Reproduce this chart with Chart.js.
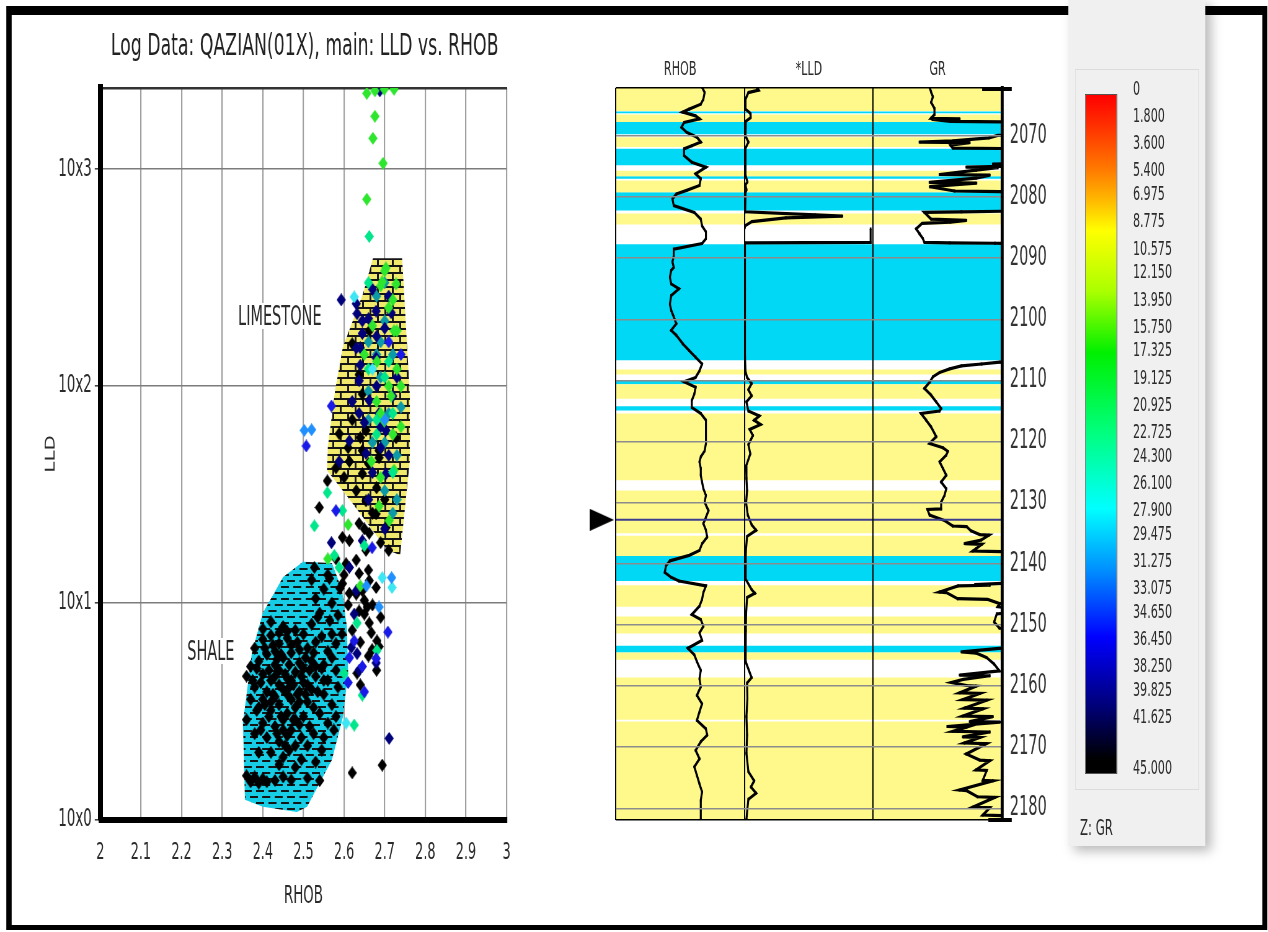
<!DOCTYPE html>
<html>
<head>
<meta charset="utf-8">
<script src="https://cdn.jsdelivr.net/npm/chart.js@4.4.1/dist/chart.umd.min.js"></script>
<style>
  html, body { margin: 0; padding: 0; background: #fff; overflow: hidden; }
  body { width: 1268px; height: 932px; position: relative;
         font-family: "Liberation Sans Narrow", "DejaVu Sans Condensed", "Arial Narrow", sans-serif; color: #2b2b2b; }
  /* the whole figure is drawn wide and squeezed horizontally, like the original screenshot */
  #stage { position: absolute; left: 0; top: 0; width: 2045px; height: 932px; transform: scaleX(0.62); transform-origin: 0 0; }
  #frame { position: absolute; left: 9.7px; top: 6px; width: 2034px; height: 924px; box-sizing: border-box;
           border-style: solid; border-color: #000; border-width: 9px 8px 5px 9.7px; }
  #cvLeft { position: absolute; left: 32.3px; top: 20px; }
  #cvLog { position: absolute; left: 903.2px; top: 40px; }
  .lbl { position: absolute; background: #fff; font-size: 26px; line-height: 26px; padding: 0 4px; white-space: nowrap; }
  .cap { position: absolute; background: #000; }
  #panel { position: absolute; left: 1722.6px; top: 0; width: 221px; height: 846px; background: #f0f0f0;
           box-shadow: 10px 5px 14px rgba(0,0,0,0.28); }
  #cbBox { position: absolute; left: 11.3px; top: 69px; width: 198px; height: 719px; border: 1px solid #dcdcdc; }
  #cbBar { position: absolute; left: 27.4px; top: 94px; width: 50px; height: 678px; border: 1px solid #555;
           border-left-width: 1.6px; border-right-width: 1.6px;
           background: linear-gradient(to bottom, #ff0000 0%, #ff2a00 4%, #ff7a00 11%, #ffc000 16%, #ffff00 20%,
             #aaff00 29%, #00f000 38%, #00ff80 50%, #00ffff 61%, #0090ff 70%, #0000ff 80%, #00007a 90%, #000000 98%); }
  .cbl { position: absolute; left: 104.8px; font-size: 20px; line-height: 16px; white-space: nowrap; }
  #zlab { position: absolute; left: 19.4px; top: 816px; font-size: 21px; }
</style>
</head>
<body>
<div id="stage">
  <div id="frame"></div>
  <canvas id="cvLeft" width="904" height="900"></canvas>
  <canvas id="cvLog" width="833" height="810"></canvas>
  <div class="lbl" style="left:380px; top:303px;">LIMESTONE</div>
  <div class="lbl" style="left:298px; top:638px;">SHALE</div>
  <div class="cap" style="left:1583.9px; top:87px; width:48.4px; height:4px;"></div>
  <div class="cap" style="left:1593.5px; top:818px; width:38.8px; height:4px;"></div>
  <div id="panel">
    <div id="cbBox"></div>
    <div id="cbBar"></div>
    <div id="zlab">Z: GR</div>
  </div>
</div>
<script>
const F = '"Liberation Sans Narrow", "DejaVu Sans Condensed", "Arial Narrow", sans-serif';
const TXT = '#2b2b2b';

// ---------- crossplot (LLD vs RHOB) ----------
const rhobTicks = [2, 2.1, 2.2, 2.3, 2.4, 2.5, 2.6, 2.7, 2.8, 2.9, 3];
const rhobTickLabels = ['2', '2.1', '2.2', '2.3', '2.4', '2.5', '2.6', '2.7', '2.8', '2.9', '3'];
const lldTicks = [1, 10, 100, 1000];
const lldTickLabels = ['10x0', '10x1', '10x2', '10x3'];

const limestonePoly = [[2.671, 389], [2.743, 389], [2.762, 91], [2.762, 45.6], [2.738, 16.6], [2.706, 17.6],
  [2.615, 29.8], [2.558, 41], [2.560, 52.4], [2.578, 95.9], [2.597, 151], [2.647, 268]];
const shalePoly = [[2.499, 15.5], [2.570, 15.3], [2.595, 11.5], [2.607, 7.75], [2.610, 4.76], [2.597, 2.98],
  [2.570, 1.89], [2.509, 1.15], [2.484, 1.09], [2.400, 1.15], [2.356, 1.24], [2.351, 2.8], [2.373, 5.88],
  [2.400, 9.0], [2.450, 13.2]];

// points grouped by GR colour class
const blackPts = [
  [2.38,6.2],[2.40,6.8],[2.42,7.1],[2.44,6.5],[2.46,6.9],[2.39,5.4],[2.41,5.8],[2.43,5.2],[2.45,5.6],[2.47,5.9],
  [2.49,5.3],[2.40,4.7],[2.42,4.4],[2.44,4.9],[2.46,4.5],[2.48,4.8],[2.50,4.3],[2.38,4.1],[2.41,3.9],[2.43,3.7],
  [2.45,4.0],[2.47,3.6],[2.49,3.9],[2.51,3.5],[2.39,3.3],[2.42,3.2],[2.44,3.4],[2.46,3.1],[2.48,3.3],[2.50,3.0],
  [2.40,2.8],[2.43,2.7],[2.45,2.9],[2.47,2.6],[2.49,2.75],[2.41,2.4],[2.44,2.3],[2.46,2.45],[2.48,2.2],[2.42,2.05],
  [2.45,1.95],[2.37,3.6],[2.36,4.6],[2.37,5.1],[2.52,4.0],[2.53,4.6],[2.55,3.8],[2.56,4.4],[2.57,3.4],[2.54,3.1],
  [2.56,2.8],[2.58,4.9],[2.57,5.6],[2.55,5.2],[2.52,5.4],[2.51,6.2],[2.53,6.6],[2.50,7.2],[2.52,8.0],[2.54,9.0],
  [2.53,10.5],[2.55,11.6],[2.56,13.5],[2.52,12.8],[2.57,7.2],[2.58,3.0],[2.55,2.4],[2.51,2.2],[2.53,1.85],[2.48,1.75],
  [2.36,1.6],[2.37,1.5],[2.38,1.58],[2.39,1.48],[2.40,1.55],[2.41,1.5],[2.43,1.52],[2.45,1.58],[2.47,1.53],[2.51,1.56],
  [2.54,1.52],[2.39,2.05],[2.465,2.1],[2.44,1.8],[2.38,2.5],[2.36,2.9],[2.42,8.2],[2.45,7.8],[2.48,7.5],[2.47,6.4],
  [2.43,6.0],[2.49,6.1],[2.50,5.0],[2.44,4.2],[2.46,3.8],[2.42,3.5],[2.40,3.6],[2.48,2.9],[2.45,2.6],
  [2.385,5.0],[2.395,4.3],[2.405,3.4],[2.415,4.9],[2.425,6.4],[2.435,5.5],[2.445,3.0],[2.455,4.7],[2.465,5.2],
  [2.475,4.2],[2.485,3.8],[2.495,4.6],[2.505,3.8],[2.515,4.9],[2.525,3.3],[2.435,2.5],[2.455,2.2],[2.475,2.9],
  [2.495,2.4],[2.415,3.0],[2.395,2.6],[2.405,6.2],[2.425,3.8],[2.445,5.8],[2.465,4.1],[2.485,6.6],[2.505,5.6],
  [2.525,5.9],[2.545,5.0],[2.535,3.9],[2.515,2.7],[2.375,4.4],[2.385,3.2],[2.44,7.3],[2.46,7.4],[2.40,7.6],
  [2.43,4.6],[2.47,4.4],[2.49,3.5],[2.51,4.2],[2.53,5.1],[2.55,4.4],[2.56,6.0],[2.58,6.5],[2.585,4.1],[2.575,2.6],
  [2.545,2.1],[2.525,2.5],[2.495,1.9],[2.565,8.3],[2.545,7.0],[2.535,8.6],[2.57,10.0],[2.585,8.8],[2.595,7.2],
  [2.559,36.6],[2.539,27.6],[2.596,20.1],[2.605,15.2],[2.637,13.7],[2.654,17.5],[2.662,12.7],[2.679,11.8],[2.657,9.6],
  [2.662,8.1],[2.667,7.3],[2.686,6.3],[2.681,6.7],[2.669,6.1],[2.632,4.75],[2.694,1.79],[2.62,1.65],[2.613,11.1],
  [2.596,12.3],[2.645,11.4],[2.65,8.9],[2.637,9.2],[2.58,42],[2.613,45],[2.645,39.5],[2.654,29.6],[2.679,25.8],
  [2.703,22.3],[2.637,23.3],[2.662,21],[2.613,19.4],[2.645,50.5],[2.686,46.8],[2.62,157],[2.662,180],[2.654,62.6],
  [2.588,60.4],[2.728,57.8],[2.686,50.5],[2.637,113],[2.645,92],[2.62,70],[2.64,58],[2.66,44],[2.68,34],[2.70,30],
  [2.67,26],[2.65,22],[2.69,19],[2.71,17.5],[2.63,33],[2.60,38],[2.61,52],[2.58,16],[2.60,13.5],[2.63,11],
  [2.65,10.3],[2.67,9.8],[2.62,7.5],[2.64,6.6],[2.66,5.7],[2.68,4.9],[2.64,4.2],[2.69,8.6],[2.61,9.8],[2.59,11.7],
  [2.63,15.8],[2.66,14.2],[2.527,14.6],[2.564,13.0]
];
const navyPts = [
  [2.593,250],[2.632,216],[2.645,200],[2.679,222],[2.716,218],[2.645,175],[2.63,150],[2.679,135],[2.637,106],
  [2.662,86],[2.637,75],[2.686,75],[2.703,62.6],[2.613,56],[2.588,45],[2.654,49],[2.703,39.5],[2.645,19.4],
  [2.569,19],[2.613,14.6],[2.63,11.4],[2.625,8.9],[2.618,6.25],[2.637,4.9],[2.632,5.85],[2.679,5.3],[2.711,2.38],
  [2.63,240],[2.66,205],[2.70,185],[2.64,125],[2.68,100],[2.65,68],[2.72,90],[2.62,85],[2.69,52],[2.66,30],
  [2.70,22],[2.688,2300],[2.67,280],[2.71,260],[2.68,170],[2.73,110],[2.69,65],[2.67,40],[2.71,48],[2.64,150]
];
const bluePts = [[2.507,53],[2.58,26.7],[2.625,6.7],[2.645,5.1],[2.708,7.35],[2.669,18],[2.613,5.6],[2.679,5.55],
  [2.569,81],[2.61,4.3],[2.65,3.9],[2.74,140],[2.71,160]];
const azurePts = [[2.502,62.6],[2.52,63],[2.717,13.1],[2.686,9.6],[2.655,12.0],[2.70,70]];
const cyanPts = [[2.625,258],[2.718,11.8],[2.694,13.1],[2.605,2.8],[2.67,120]];
const seaPts = [[2.662,490],[2.559,32.3],[2.596,26.7],[2.527,22.7],[2.576,16.6],[2.588,14.6],[2.632,8.1],
  [2.65,18.4],[2.60,4.75],[2.645,3.76],[2.625,2.74],[2.681,6.05],[2.68,60],[2.72,40],[2.70,110],[2.66,300],
  [2.71,130],[2.68,70],[2.72,75],[2.66,120]];
const greenPts = [[2.656,2240],[2.676,2300],[2.699,2340],[2.723,2340],[2.676,1755],[2.671,1390],[2.696,1066],
  [2.656,728],[2.703,351],[2.728,296],[2.694,303],[2.723,180],[2.681,130],[2.716,90],[2.699,69],[2.667,45],
  [2.723,41],[2.686,28],[2.711,24],[2.70,340],[2.72,250],[2.73,120],[2.71,100],[2.68,85],[2.74,65],[2.69,38],
  [2.61,23],[2.56,16],[2.64,12],[2.69,290],[2.71,230],[2.73,180],[2.69,75],[2.72,60],[2.74,100],[2.67,190],[2.65,140]];
const tealPts = [[2.68,260],[2.70,200],[2.66,160],[2.72,140],[2.69,110],[2.71,75],[2.67,55],[2.73,48],
  [2.70,33],[2.72,26],[2.66,95],[2.69,160],[2.70,300],[2.68,140],[2.74,80],[2.66,70],[2.70,55],[2.73,30]];

// ---------- well log tracks ----------
const trackNames = ['RHOB', '*LLD', 'GR'];
const limeBands = [[2062.15,2065.9],[2066.5,2067.7],[2070.2,2071.8],[2075.7,2076.6],[2077.3,2079.2],[2082.7,2084.5],
  [2108.2,2109.0],[2110.6,2113.0],[2115.4,2126.3],[2128.0,2135.0],[2135.4,2138.7],[2143.5,2147.0],[2148.6,2151.4],
  [2154.5,2155.7],[2158.6,2165.5],[2165.8,2181.9]];
const shaleBands = [[2066.0,2066.3],[2067.7,2069.7],[2072.1,2074.8],[2076.6,2077.0],[2079.2,2082.2],[2087.7,2106.7],
  [2110.1,2110.6],[2114.2,2114.9],[2138.7,2142.8],[2153.4,2154.5]];
const markerDepth = 2132.8;

const rhobDepth = [2062.0,2062.9,2064.0,2064.8,2065.6,2066.1,2066.7,2067.2,2067.8,2068.6,2069.4,2070.2,2071.0,2071.6,
  2072.1,2073.2,2074.3,2075.1,2076.2,2077.0,2078.1,2078.9,2079.5,2080.3,2081.4,2082.5,2083.6,2084.7,2085.7,2086.8,
  2087.6,2088.5,2089.6,2090.6,2091.5,2092.0,2093.1,2094.2,2095.0,2096.1,2097.5,2098.5,2099.6,2100.7,2101.8,2102.6,
  2104.0,2105.1,2106.2,2107.3,2108.4,2109.5,2110.2,2111.1,2112.2,2113.3,2114.4,2115.4,2116.5,2117.6,2118.7,2120.3,
  2121.5,2122.5,2123.3,2124.4,2125.5,2126.6,2127.7,2128.8,2129.9,2131.3,2132.4,2133.4,2134.5,2135.6,2136.7,2137.8,
  2138.6,2139.5,2140.3,2141.4,2142.2,2142.8,2143.6,2144.7,2145.8,2146.9,2148.3,2149.1,2150.2,2151.3,2152.5,2153.8,
  2154.9,2156.0,2157.4,2158.8,2160.1,2161.5,2162.9,2164.2,2165.6,2167.0,2168.0,2169.1,2170.5,2171.9,2173.2,2174.6,
  2176.0,2177.3,2178.7,2180.1,2181.8];
const rhobValue = [2.62,2.64,2.63,2.61,2.52,2.47,2.57,2.60,2.48,2.46,2.50,2.58,2.61,2.54,
  2.48,2.48,2.54,2.65,2.57,2.61,2.60,2.50,2.42,2.39,2.40,2.56,2.61,2.62,2.65,2.65,
  2.62,2.40,2.40,2.39,2.40,2.38,2.37,2.38,2.44,2.38,2.37,2.38,2.40,2.42,2.38,2.42,
  2.47,2.52,2.57,2.62,2.60,2.57,2.48,2.57,2.56,2.54,2.54,2.61,2.65,2.65,2.65,2.65,
  2.64,2.61,2.60,2.61,2.61,2.62,2.63,2.65,2.64,2.67,2.65,2.63,2.65,2.66,2.62,2.60,
  2.52,2.37,2.34,2.33,2.38,2.44,2.65,2.63,2.62,2.60,2.54,2.61,2.63,2.60,2.62,2.51,
  2.56,2.58,2.61,2.60,2.61,2.58,2.62,2.60,2.58,2.65,2.66,2.61,2.57,2.60,2.56,2.58,
  2.60,2.62,2.61,2.61,2.61];

const lldDepth = [2062.0,2062.5,2062.9,2064.0,2065.6,2066.3,2067.0,2067.6,2070.0,2071.0,2072.0,2076.4,2077.5,2078.0,
  2078.8,2079.3,2082.4,2082.9,2083.1,2083.4,2084.0,2084.7,2084.9,2085.0,2085.2,2087.4,2087.5,2088.0,2095.0,2100.0,
  2106.0,2108.5,2109.5,2110.5,2111.5,2112.5,2113.5,2115.0,2115.8,2116.5,2117.2,2118.0,2119.0,2120.5,2122.0,2124.0,
  2126.0,2128.0,2130.0,2132.0,2133.6,2134.5,2135.5,2138.0,2140.0,2142.5,2144.2,2144.8,2145.5,2148.0,2151.0,2154.0,
  2156.0,2158.6,2159.5,2162.0,2165.0,2168.0,2171.0,2174.0,2175.5,2176.5,2177.5,2178.5,2180.0,2181.8];
const lldValue = [190,220,60,15,15,90,95,20,15,60,15,15,45,15,
  30,15,10,1100,1520,640,115,10,5,null,1960,1960,5,5,8,5,
  8,15,40,110,60,110,30,60,230,150,250,80,130,60,90,25,
  30,40,25,50,110,180,40,20,15,20,110,160,40,25,20,15,
  20,110,40,45,30,40,30,60,150,100,180,60,45,30];

const grDepth = [2062.0,2062.8,2063.6,2064.5,2065.5,2066.5,2067.1,2067.2,2067.3,2067.6,2067.8,2069.6,2069.9,2070.3,
  2070.8,2071.0,2071.1,2071.5,2072.0,2072.1,2074.4,2074.6,2074.9,2075.1,2075.2,2075.6,2076.3,2076.4,2076.9,2077.6,
  2077.7,2078.3,2079.0,2079.1,2079.3,2082.2,2082.4,2082.5,2083.6,2083.8,2084.1,2084.3,2085.2,2086.0,2086.8,2087.4,
  2087.5,2087.55,2087.7,2106.8,2107.0,2107.3,2107.6,2108.1,2108.7,2109.4,2110.3,2111.3,2112.4,2113.5,2114.6,2115.0,
  2115.4,2116.5,2117.6,2119.2,2120.3,2121.0,2121.6,2122.2,2123.3,2124.4,2125.5,2126.6,2127.7,2128.8,2129.9,2131.0,
  2131.1,2132.0,2132.9,2133.8,2133.9,2134.6,2135.2,2135.3,2136.1,2136.7,2136.8,2137.5,2137.9,2138.0,2138.6,2142.8,
  2143.4,2143.5,2143.6,2144.6,2144.7,2145.7,2145.8,2146.5,2147.0,2147.6,2148.2,2149.5,2150.5,2151.2,2153.0,2154.4,
  2154.6,2155.3,2156.4,2157.5,2158.2,2158.3,2158.9,2159.4,2159.9,2160.0,2161.1,2161.2,2162.2,2162.3,2163.6,2163.7,
  2164.9,2165.0,2165.8,2165.9,2166.6,2166.7,2167.4,2167.5,2168.3,2168.4,2169.3,2169.4,2171.1,2172.1,2172.2,2173.7,
  2173.8,2175.4,2175.5,2177.0,2177.1,2178.1,2178.2,2179.8,2179.9,2181.1,2181.2];
const grValue = [21.9,22.5,23.2,22.5,23.8,23.8,22.5,33.6,23.0,30.0,70,70,48.4,45.0,
  31.0,18.0,37.5,30.0,30.9,70,70,46.5,60,36.2,48.4,40.0,25.8,45.3,40.0,21.9,
  40.1,22.0,31.6,49.2,70,70,34.3,19.9,22.5,36.2,30.0,19.0,16.7,18.0,19.3,19.9,
  29.7,47.3,70,70,49.2,42.1,34.3,29.7,25.8,23.2,21.9,19.9,22.5,24.5,26.4,25.8,
  18.6,20.6,22.5,24.5,21.9,27.1,29.0,28.4,25.8,27.1,28.4,26.4,28.4,27.7,26.4,26.4,
  21.1,21.9,27.7,30.9,36.3,38.0,41.4,45.0,42.0,35.5,42.2,40.0,38.7,50.0,70,70,
  39.5,45.3,33.0,25.8,28.4,32.8,44.5,49.2,48.4,60,48.0,47.0,49.0,60,70,34.3,
  40.1,44.0,47.0,49.0,33.6,45.3,35.0,30.4,36.3,40.0,33.6,41.4,34.8,44.1,35.5,42.6,
  34.8,46.5,37.5,49.2,28.8,36.3,31.0,45.3,34.8,41.4,35.5,44.0,36.2,41.4,45.3,40.0,
  44.1,42.6,46.5,33.6,36.3,40.5,47.3,38.7,45.3,42.6,50.0];

// ---------- colour bar ----------
const cbValues = [0, 1.8, 3.6, 5.4, 6.975, 8.775, 10.575, 12.15, 13.95, 15.75, 17.325, 19.125, 20.925, 22.725,
  24.3, 26.1, 27.9, 29.475, 31.275, 33.075, 34.65, 36.45, 38.25, 39.825, 41.625, 45];

// ---------- helpers ----------
function diamond(color) {
  const c = document.createElement('canvas');
  c.width = 15; c.height = 13;
  const g = c.getContext('2d');
  g.fillStyle = color;
  g.beginPath(); g.moveTo(7.5, 0); g.lineTo(15, 6.5); g.lineTo(7.5, 13); g.lineTo(0, 6.5); g.closePath(); g.fill();
  return c;
}
function arrowHead() {
  const c = document.createElement('canvas');
  c.width = 39; c.height = 22;
  const g = c.getContext('2d');
  g.fillStyle = '#000';
  g.beginPath(); g.moveTo(0, 0); g.lineTo(39, 11); g.lineTo(0, 22); g.closePath(); g.fill();
  return c;
}
function brickPattern(ctx) {
  const c = document.createElement('canvas');
  c.width = 24; c.height = 14;
  const g = c.getContext('2d');
  g.fillStyle = '#f1e96c'; g.fillRect(0, 0, 24, 14);
  g.fillStyle = '#151515';
  g.fillRect(0, 0, 24, 2); g.fillRect(0, 7, 24, 2);
  g.fillRect(0, 0, 3, 7); g.fillRect(12, 7, 3, 7);
  return ctx.createPattern(c, 'repeat');
}
function shalePattern(ctx) {
  const c = document.createElement('canvas');
  c.width = 20; c.height = 12;
  const g = c.getContext('2d');
  g.fillStyle = '#17cde6'; g.fillRect(0, 0, 20, 12);
  g.fillStyle = '#151515';
  g.fillRect(1, 2, 13, 2); g.fillRect(11, 8, 9, 2); g.fillRect(0, 8, 4, 2);
  return ctx.createPattern(c, 'repeat');
}
const xy = pts => pts.map(p => ({x: p[0], y: p[1]}));

// colour bar labels
const panel = document.getElementById('panel');
cbValues.forEach(v => {
  const d = document.createElement('div');
  d.className = 'cbl';
  d.textContent = v === 0 ? '0' : v.toFixed(3);
  d.style.top = (80 + v * 15.09) + 'px';
  panel.appendChild(d);
});

// ---------- crossplot chart ----------
const ctxL = document.getElementById('cvLeft').getContext('2d');
const polySet = (pts, bg) => ({type: 'line', data: xy(pts), fill: 'shape', backgroundColor: bg,
  borderWidth: 0, borderColor: 'rgba(0,0,0,0)', pointRadius: 0, order: 10});
const ptSet = (pts, color, order) => ({type: 'scatter', data: xy(pts), pointStyle: diamond(color),
  pointRadius: 6, order: order});

new Chart(ctxL, {
  type: 'scatter',
  data: {
    datasets: [
      polySet(limestonePoly, brickPattern(ctxL)),
      polySet(shalePoly, shalePattern(ctxL)),
      ptSet(blackPts, '#000000', 3),
      ptSet(navyPts, '#00007a', 2),
      ptSet(tealPts, '#0c9aa8', 2),
      ptSet(bluePts, '#1a1ae8', 1),
      ptSet(azurePts, '#2090ff', 1),
      ptSet(cyanPts, '#3de6f2', 1),
      ptSet(seaPts, '#00e68a', 1),
      ptSet(greenPts, '#2ee62e', 1)
    ]
  },
  options: {
    responsive: false, animation: false, events: [],
    layout: {autoPadding: false, padding: {left: 15, right: 0, top: 0, bottom: 5}},
    plugins: {
      legend: {display: false}, tooltip: {enabled: false},
      title: {display: true, text: 'Log Data: QAZIAN(01X), main: LLD vs. RHOB', color: '#222',
        font: {family: F, size: 31, weight: 'normal'}, padding: {top: 8.4, bottom: 22.4}}
    },
    scales: {
      x: {
        type: 'linear', position: 'bottom', min: 2, max: 3,
        afterBuildTicks: s => { s.ticks = rhobTicks.map(v => ({value: v})); },
        ticks: {callback: (v, i) => rhobTickLabels[i], font: {family: F, size: 23}, color: TXT,
          padding: 19, maxRotation: 0, autoSkip: false},
        grid: {color: '#a0a0a0', lineWidth: 2.2, drawTicks: false},
        border: {color: '#000', width: 6},
        title: {display: true, text: 'RHOB', color: TXT, font: {family: F, size: 24}, padding: {top: 0, bottom: 4}},
        afterFit: s => { s.height = 95; }
      },
      xTop: {
        type: 'linear', position: 'top', min: 2, max: 3,
        ticks: {display: false}, grid: {display: false},
        border: {color: '#333', width: 2.5},
        afterFit: s => { s.height = 0; }
      },
      y: {
        type: 'logarithmic', min: 1, max: 2370,
        afterBuildTicks: s => { s.ticks = lldTicks.map(v => ({value: v})); },
        ticks: {callback: (v, i) => lldTickLabels[i], font: {family: F, size: 24}, color: TXT, padding: 4.7},
        grid: {color: '#7c7c7c', lineWidth: 1.6, tickLength: 9, tickColor: '#444'},
        border: {color: '#000', width: 8},
        title: {display: true, text: 'LLD', color: TXT, font: {family: F, size: 22}, padding: {top: 21.8, bottom: 0}},
        afterFit: s => { s.width = 114.8; }
      },
      yPad: {
        type: 'linear', position: 'right', min: 0, max: 1,
        ticks: {display: false}, grid: {display: false}, border: {display: false},
        afterFit: s => { s.width = 119; }
      }
    }
  }
});

// ---------- well log chart ----------
const LIME = '#fff98c', SHALE = '#00d8f6';
const bandSet = (b, color) => ({type: 'line', xAxisID: 'xAll', yAxisID: 'y',
  data: [{x: 0, y: b[0]}, {x: 3, y: b[0]}, {x: 3, y: b[1]}, {x: 0, y: b[1]}],
  fill: 'shape', backgroundColor: color, borderWidth: 0, borderColor: 'rgba(0,0,0,0)', pointRadius: 0, order: 10});
const curveSet = (axis, depth, vals) => ({type: 'line', xAxisID: axis, yAxisID: 'y',
  data: depth.map((d, i) => ({x: vals[i], y: d})), borderColor: '#000', borderWidth: 3.2,
  pointRadius: 2, pointStyle: 'rect', pointBackgroundColor: '#000', pointBorderWidth: 0,
  fill: false, clip: 0, order: 2});

const logSets = [];
limeBands.forEach(b => logSets.push(bandSet(b, LIME)));
shaleBands.forEach(b => logSets.push(bandSet(b, SHALE)));
logSets.push(curveSet('xR', rhobDepth, rhobValue));
logSets.push(curveSet('xL', lldDepth, lldValue));
logSets.push(curveSet('xG', grDepth, grValue));
logSets.push({type: 'line', xAxisID: 'xAll', yAxisID: 'y', data: [{x: 0, y: markerDepth}, {x: 3, y: markerDepth}],
  borderColor: '#3d3d8f', borderWidth: 2, pointRadius: 0, order: 1});
// large radius only so the marker outside the plot area is not culled
logSets.push({type: 'scatter', xAxisID: 'xAll', yAxisID: 'y', data: [{x: -0.108, y: markerDepth}],
  pointStyle: arrowHead(), pointRadius: 40, clip: false, order: 0});

const trackAxis = (name, min, max) => ({
  type: 'linear', position: 'top', stack: 'tracks', min: min, max: max,
  ticks: {display: false}, grid: {display: false},
  border: {color: '#000', width: 1.5, z: 2},
  title: {display: true, text: name, color: TXT, font: {family: F, size: 20}, padding: {top: 10, bottom: 0}},
  afterFit: s => { s.height = 40; }
});

new Chart(document.getElementById('cvLog'), {
  type: 'scatter',
  data: {datasets: logSets},
  options: {
    responsive: false, animation: false, events: [],
    layout: {autoPadding: false, padding: {left: 90.3, right: 0, top: 8, bottom: 30}},
    plugins: {legend: {display: false}, tooltip: {enabled: false}},
    scales: {
      xAll: {
        type: 'linear', position: 'top', min: 0, max: 3,
        ticks: {display: false, stepSize: 1},
        grid: {color: '#000', lineWidth: 1.9, drawTicks: false, z: 1},
        border: {display: false},
        afterFit: s => { s.height = 0; }
      },
      // top axes of one stack are laid out right-to-left, so list them in reverse
      xG: trackAxis(trackNames[2], 0, 50),
      xL: trackAxis(trackNames[1], 0, 2000),
      xR: trackAxis(trackNames[0], 1.95, 2.95),
      xB: {
        type: 'linear', position: 'bottom', min: 0, max: 3,
        ticks: {display: false}, grid: {display: false},
        border: {color: '#000', width: 1.5, z: 2},
        afterFit: s => { s.height = 0; }
      },
      y: {
        type: 'linear', position: 'right', reverse: true, min: 2062.15, max: 2181.9,
        ticks: {stepSize: 10, includeBounds: false, callback: v => String(v),
          font: {family: F, size: 26}, color: '#333', padding: 12.9},
        grid: {color: '#8c8c8c', lineWidth: 1.6, drawTicks: false, z: 1},
        border: {color: '#000', width: 4.8, z: 2},
        afterFit: s => { s.width = 120.1; }
      }
    }
  }
});
</script>
</body>
</html>
